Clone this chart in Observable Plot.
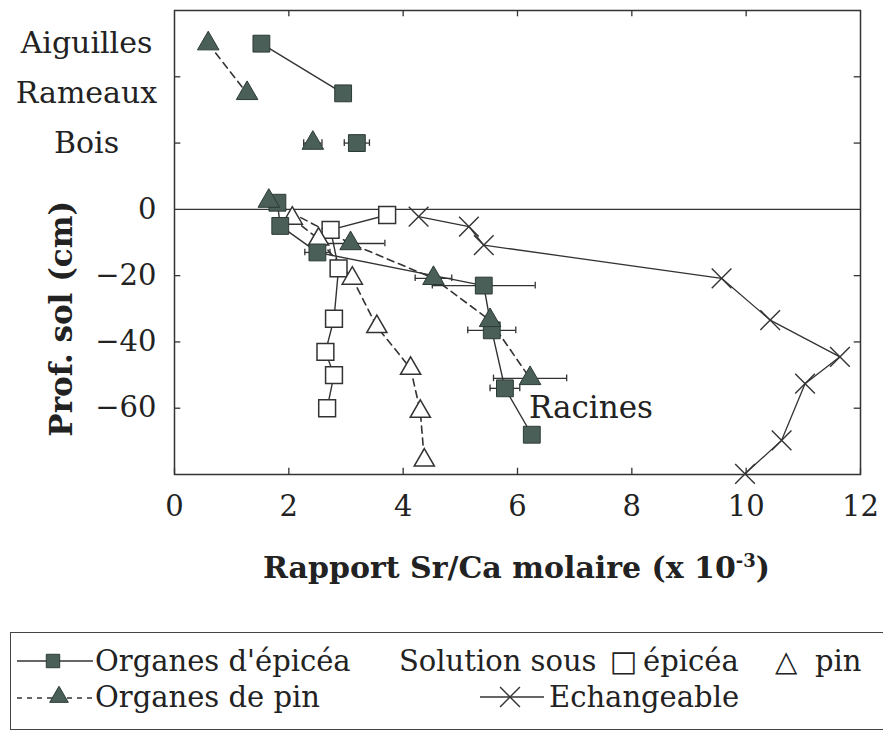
<!DOCTYPE html>
<html><head><meta charset="utf-8">
<script src="https://cdn.jsdelivr.net/npm/d3@7"></script>
<script src="https://cdn.jsdelivr.net/npm/@observablehq/plot@0.6"></script>
<style>
body{margin:0;background:#fff;}
#wrap{position:relative;width:883px;height:733px;overflow:hidden;background:#fff;font-family:"DejaVu Serif","Liberation Serif",serif;color:#222;}
#chart svg{display:block;}
#xtitle{position:absolute;left:0;width:1033px;top:548px;text-align:center;font-weight:bold;font-size:30px;line-height:40px;white-space:nowrap;}
#xtitle sup{font-size:18px;line-height:0;}
#legendbox{position:absolute;left:10px;top:632px;width:900px;height:98px;border:1.5px solid #444;box-sizing:border-box;}
.lg{position:absolute;font-size:29px;line-height:40px;white-space:nowrap;}
.lgsym{position:absolute;}
</style>
</head><body>
<div id="wrap">
  <div id="chart"></div>
  <div id="xtitle"></div>
  <div id="legendbox"></div>
  <div id="legend"></div>
</div>
<script>
// ---- axis ticks ----
const xTicks = [0, 2, 4, 6, 8, 10, 12];
const xTopTicks = [2, 4, 6, 8, 10];
const yTickLabels = [0, -20, -40, -60];
const yTickMarks = [40, 20, -20, -40, -60];
const xDomain = [0, 12];
const yDomain = [-80, 60];

// ---- organ categories (upper part) ----
const organCategories = ["Aiguilles", "Rameaux", "Bois"];
const organLevel = [50, 35, 20];
const epiceaOrganX = [1.52, 2.95, 3.19];
const epiceaOrganErr = [0, 0, 0.22];
const pinOrganX = [0.59, 1.27, 2.42];
const pinOrganErr = [0, 0, 0.16];

// ---- roots (Organes) vs soil depth ----
const epiceaRootDepth = [2, -5, -13, -23, -36.5, -54, -68];
const epiceaRootX = [1.8, 1.85, 2.5, 5.41, 5.55, 5.78, 6.25];
const epiceaRootErr = [0, 0, 0.22, 0.9, 0.42, 0.26, 0];
const pinRootDepth = [2.5, -10.3, -20.8, -33.5, -51];
const pinRootX = [1.65, 3.08, 4.53, 5.52, 6.22];
const pinRootErr = [0, 0.6, 0.32, 0, 0.64];

// ---- soil solutions ----
const solEpiceaDepth = [-1.7, -6.2, -17.8, -33, -43, -50, -60];
const solEpiceaX = [3.72, 2.73, 2.87, 2.79, 2.64, 2.79, 2.67];
const solPinDepth = [-2.7, -9, -20.8, -35.4, -48, -61, -75.7];
const solPinX = [2.06, 2.52, 3.11, 3.54, 4.13, 4.3, 4.37];

// ---- exchangeable ----
const exchDepth = [-2.2, -5.2, -10.8, -20.8, -33.4, -44.5, -52.6, -69.7, -79.8];
const exchX = [4.27, 5.15, 5.41, 9.57, 10.42, 11.64, 11.03, 10.62, 9.98];

// ---- texts ----
const yTitle = "Prof. sol (cm)";
const yTitleCenter = -33;
const racinesLabel = [{x: 6.2, y: -60, text: "Racines"}];

// style
const fontStack = "'DejaVu Serif', 'Liberation Serif', serif";
const ink = "#333";
const fillDark = "#4a5f58";
const strokeDark = "#2c3a35";
const dash = "7,5";
const capHalf = 1.0;    // data units
const tickLenY = 1.9;   // data units (~6px)
const tickLenX = 0.11;  // data units (~6px)

const zip = (xs, ys, es) => xs.map((x, i) => ({x, y: ys[i], e: es ? es[i] : 0}));
const epiceaOrgans = organCategories.map((c, i) => ({cat: c, x: epiceaOrganX[i], y: organLevel[i], e: epiceaOrganErr[i]}));
const pinOrgans = organCategories.map((c, i) => ({cat: c, x: pinOrganX[i], y: organLevel[i], e: pinOrganErr[i]}));
const epiceaRoots = zip(epiceaRootX, epiceaRootDepth, epiceaRootErr);
const pinRoots = zip(pinRootX, pinRootDepth, pinRootErr);
const solEpicea = zip(solEpiceaX, solEpiceaDepth);
const solPin = zip(solPinX, solPinDepth);
const exch = zip(exchX, exchDepth);
// Aiguilles–Rameaux are linked, Bois stands alone
const linkedOrgans = ["Aiguilles", "Rameaux"];
const withErr = [...epiceaOrgans, ...pinOrgans, ...epiceaRoots, ...pinRoots].filter(d => d.e > 0);

const errBars = [
  Plot.ruleY(withErr, {y: "y", x1: d => d.x - d.e, x2: d => d.x + d.e, stroke: ink, strokeWidth: 1.3}),
  Plot.ruleX(withErr, {x: d => d.x - d.e, y1: d => d.y - capHalf, y2: d => d.y + capHalf, stroke: ink, strokeWidth: 1.3}),
  Plot.ruleX(withErr, {x: d => d.x + d.e, y1: d => d.y - capHalf, y2: d => d.y + capHalf, stroke: ink, strokeWidth: 1.3})
];

const chart = Plot.plot({
  width: 883,
  height: 530,
  marginLeft: 174,
  marginRight: 23,
  marginTop: 10,
  marginBottom: 56,
  style: {fontFamily: fontStack, fontSize: "29px", color: "#222", background: "white"},
  x: {domain: xDomain},
  y: {domain: yDomain},
  marks: [
    Plot.ruleY([0], {stroke: ink, strokeWidth: 1.3}),
    // inward ticks
    Plot.ruleX(xTicks, {x: d => d, y1: yDomain[0], y2: yDomain[0] + tickLenY, stroke: ink, strokeWidth: 1.3}),
    Plot.ruleX(xTopTicks, {x: d => d, y1: yDomain[1], y2: yDomain[1] - tickLenY, stroke: ink, strokeWidth: 1.3}),
    Plot.ruleY(yTickMarks, {y: d => d, x1: xDomain[0], x2: xDomain[0] + tickLenX, stroke: ink, strokeWidth: 1.3}),
    Plot.ruleY(yTickMarks, {y: d => d, x1: xDomain[1], x2: xDomain[1] - tickLenX, stroke: ink, strokeWidth: 1.3}),
    Plot.axisX({ticks: xTicks, tickSize: 0, tickPadding: 21, label: null, fontSize: 29}),
    Plot.axisY({ticks: yTickLabels, tickSize: 0, tickPadding: 18, label: null, fontSize: 29}),
    // lines
    Plot.line(epiceaOrgans.filter(d => linkedOrgans.includes(d.cat)), {x: "x", y: "y", stroke: ink, strokeWidth: 1.4}),
    Plot.line(pinOrgans.filter(d => linkedOrgans.includes(d.cat)), {x: "x", y: "y", stroke: ink, strokeWidth: 1.6, strokeDasharray: dash}),
    Plot.line(epiceaRoots, {x: "x", y: "y", stroke: ink, strokeWidth: 1.4}),
    Plot.line(pinRoots, {x: "x", y: "y", stroke: ink, strokeWidth: 1.6, strokeDasharray: dash}),
    Plot.line(solEpicea, {x: "x", y: "y", stroke: ink, strokeWidth: 1.4}),
    Plot.line(solPin, {x: "x", y: "y", stroke: ink, strokeWidth: 1.6, strokeDasharray: dash}),
    Plot.line(exch, {x: "x", y: "y", stroke: ink, strokeWidth: 1.3}),
    ...errBars,
    // markers
    Plot.dot(solEpicea, {x: "x", y: "y", symbol: "square", r: 9.5, fill: "white", stroke: ink, strokeWidth: 1.5}),
    Plot.dot(solPin, {x: "x", y: "y", symbol: "triangle", r: 7.5, fill: "white", stroke: ink, strokeWidth: 1.5}),
    Plot.dot(exch, {x: "x", y: "y", symbol: "times", r: 9, stroke: ink, strokeWidth: 1.4}),
    Plot.dot([...epiceaOrgans, ...epiceaRoots], {x: "x", y: "y", symbol: "square", r: 9.5, fill: fillDark, stroke: strokeDark, strokeWidth: 1}),
    Plot.dot([...pinOrgans, ...pinRoots], {x: "x", y: "y", symbol: "triangle", r: 8, fill: fillDark, stroke: strokeDark, strokeWidth: 1}),
    // texts
    Plot.text(epiceaOrgans, {frameAnchor: "left", y: "y", text: "cat", dx: -88, textAnchor: "middle", fontSize: 30}),
    Plot.text([yTitle], {frameAnchor: "left", y: () => yTitleCenter, text: d => d, rotate: -90, dx: -112, textAnchor: "middle", fontSize: 31, fontWeight: "bold"}),
    Plot.text(racinesLabel, {x: "x", y: "y", text: "text", textAnchor: "start", fontSize: 31}),
    Plot.frame({stroke: ink, strokeWidth: 1.5})
  ]
});
document.getElementById("chart").appendChild(chart);

document.getElementById("xtitle").innerHTML = "Rapport Sr/Ca molaire (x 10<sup>-3</sup>)";

// ---- legend ----
const legendRow1 = [
  {text: "Organes d'épicéa", left: 95},
  {text: "Solution sous", left: 399},
  {text: "\u25A1", left: 610},
  {text: "épicéa", left: 643},
  {text: "\u25B3", left: 775},
  {text: "pin", left: 815}
];
const legendRow2 = [
  {text: "Organes de pin", left: 95},
  {text: "Echangeable", left: 549}
];
const leg = document.getElementById("legend");
const addText = (items, top) => items.forEach(it => {
  const s = document.createElement("span");
  s.className = "lg"; s.textContent = it.text;
  s.style.left = it.left + "px"; s.style.top = top + "px";
  leg.appendChild(s);
});
addText(legendRow1, 641);
addText(legendRow2, 677);

function symSvg(left, top, w, h, build) {
  const s = d3.create("svg").attr("width", w).attr("height", h).attr("class", "lgsym")
    .style("left", left + "px").style("top", top + "px");
  build(s);
  leg.appendChild(s.node());
}
// row 1: solid line + filled square
symSvg(15, 648, 80, 26, s => {
  s.append("line").attr("x1", 2).attr("x2", 78).attr("y1", 13).attr("y2", 13).attr("stroke", ink).attr("stroke-width", 1.4);
  s.append("path").attr("transform", "translate(38,13)").attr("d", d3.symbol(d3.symbolSquare, 180)()).attr("fill", fillDark).attr("stroke", strokeDark);
});
// row 2: dashed line + filled triangle
symSvg(15, 684, 80, 26, s => {
  s.append("line").attr("x1", 2).attr("x2", 78).attr("y1", 14).attr("y2", 14).attr("stroke", ink).attr("stroke-width", 1.4).attr("stroke-dasharray", "5,5");
  s.append("path").attr("transform", "translate(44,13)").attr("d", d3.symbol(d3.symbolTriangle, 150)()).attr("fill", fillDark).attr("stroke", strokeDark);
});
// row 2: solid line + X
symSvg(478, 682, 70, 30, s => {
  s.append("line").attr("x1", 2).attr("x2", 66).attr("y1", 15).attr("y2", 15).attr("stroke", ink).attr("stroke-width", 1.4);
  s.append("path").attr("transform", "translate(32,15)").attr("d", d3.symbol(d3.symbolTimes, 260)()).attr("fill", "none").attr("stroke", ink).attr("stroke-width", 1.4);
});
</script>
</body></html>
